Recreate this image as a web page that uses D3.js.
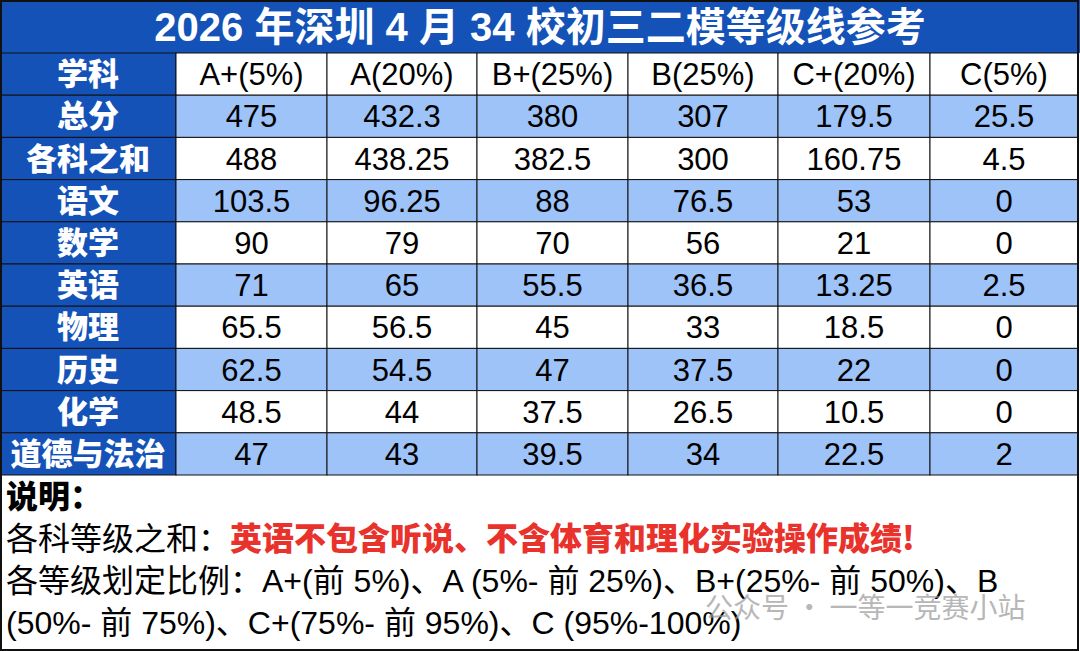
<!DOCTYPE html><html><head><meta charset="utf-8">
<script src="https://cdn.jsdelivr.net/npm/d3@7"></script>
<style>body{margin:0;background:#fff;}svg{display:block;font-family:"Liberation Sans","Noto Sans CJK SC",sans-serif;}</style></head><body>
<svg id="c" width="1080" height="651"></svg>
<script>
const title="2026 年深圳 4 月 34 校初三二模等级线参考";
const grades=["A+(5%)","A(20%)","B+(25%)","B(25%)","C+(20%)","C(5%)"];
const subjects=["总分","各科之和","语文","数学","英语","物理","历史","化学","道德与法治"];
const values=[
["475","432.3","380","307","179.5","25.5"],
["488","438.25","382.5","300","160.75","4.5"],
["103.5","96.25","88","76.5","53","0"],
["90","79","70","56","21","0"],
["71","65","55.5","36.5","13.25","2.5"],
["65.5","56.5","45","33","18.5","0"],
["62.5","54.5","47","37.5","22","0"],
["48.5","44","37.5","26.5","10.5","0"],
["47","43","39.5","34","22.5","2"]];
const shaded=[true,false,true,false,true,false,true,false,true];
const svg=d3.select("#c");
const blue="#1452B8",light="#9EC3F8",line="#111";
const colEdges=[0,176,327,477,628,778,930,1078];
const rowTop=53,rowH=42.2;
svg.append("rect").attr("x",0).attr("y",0).attr("width",1080).attr("height",rowTop).attr("fill",blue);
svg.append("text").attr("x",540).attr("y",41).attr("text-anchor","middle").attr("fill","#fff").attr("font-size",40).attr("font-weight","bold").text(title);
const rows=[{label:"学科",vals:grades,sh:false}].concat(subjects.map((s,i)=>({label:s,vals:values[i],sh:shaded[i]})));
rows.forEach((r,i)=>{
  const y=rowTop+i*rowH;
  svg.append("rect").attr("x",0).attr("y",y).attr("width",colEdges[1]).attr("height",rowH).attr("fill",blue).attr("stroke",line);
  svg.append("text").attr("x",colEdges[1]/2).attr("y",y+rowH/2+11).attr("text-anchor","middle").attr("fill","#fff").attr("font-size",31).attr("font-weight",900).attr("font-family","Noto Sans CJK SC").text(r.label);
  r.vals.forEach((v,j)=>{
    const x0=colEdges[j+1],x1=colEdges[j+2];
    svg.append("rect").attr("x",x0).attr("y",y).attr("width",x1-x0).attr("height",rowH).attr("fill",r.sh?light:"#fff").attr("stroke",line);
    svg.append("text").attr("x",(x0+x1)/2).attr("y",y+rowH/2+11).attr("text-anchor","middle").attr("fill","#000").attr("font-size",31).text(v);
  });
});
const ty=rowTop+rows.length*rowH;
svg.append("rect").attr("x",1).attr("y",1).attr("width",1077).attr("height",649).attr("fill","none").attr("stroke",line).attr("stroke-width",2);
const notes=svg.append("g").attr("font-size",32).attr("font-family","Liberation Sans, Noto Sans CJK SC");
notes.append("text").attr("x",6).attr("y",ty+33).text("说明：").attr("font-family","Noto Sans CJK SC").attr("font-weight",900);
const t2=notes.append("text").attr("x",6).attr("y",ty+75);
t2.append("tspan").text("各科等级之和：");
t2.append("tspan").attr("fill","#E8322B").attr("font-weight",900).attr("font-family","Noto Sans CJK SC").text("英语不包含听说、不含体育和理化实验操作成绩!");
notes.append("text").attr("x",6).attr("y",ty+117).text("各等级划定比例：A+(前 5%)、A (5%- 前 25%)、B+(25%- 前 50%)、B");
notes.append("text").attr("x",6).attr("y",ty+159).text("(50%- 前 75%)、C+(75%- 前 95%)、C (95%-100%)");
svg.append("text").attr("x",705).attr("y",ty+143).attr("font-size",28).attr("fill","#999").attr("opacity",0.7).attr("font-family","Noto Sans CJK SC").text("公众号 · 一等一竞赛小站");
</script></body></html>
